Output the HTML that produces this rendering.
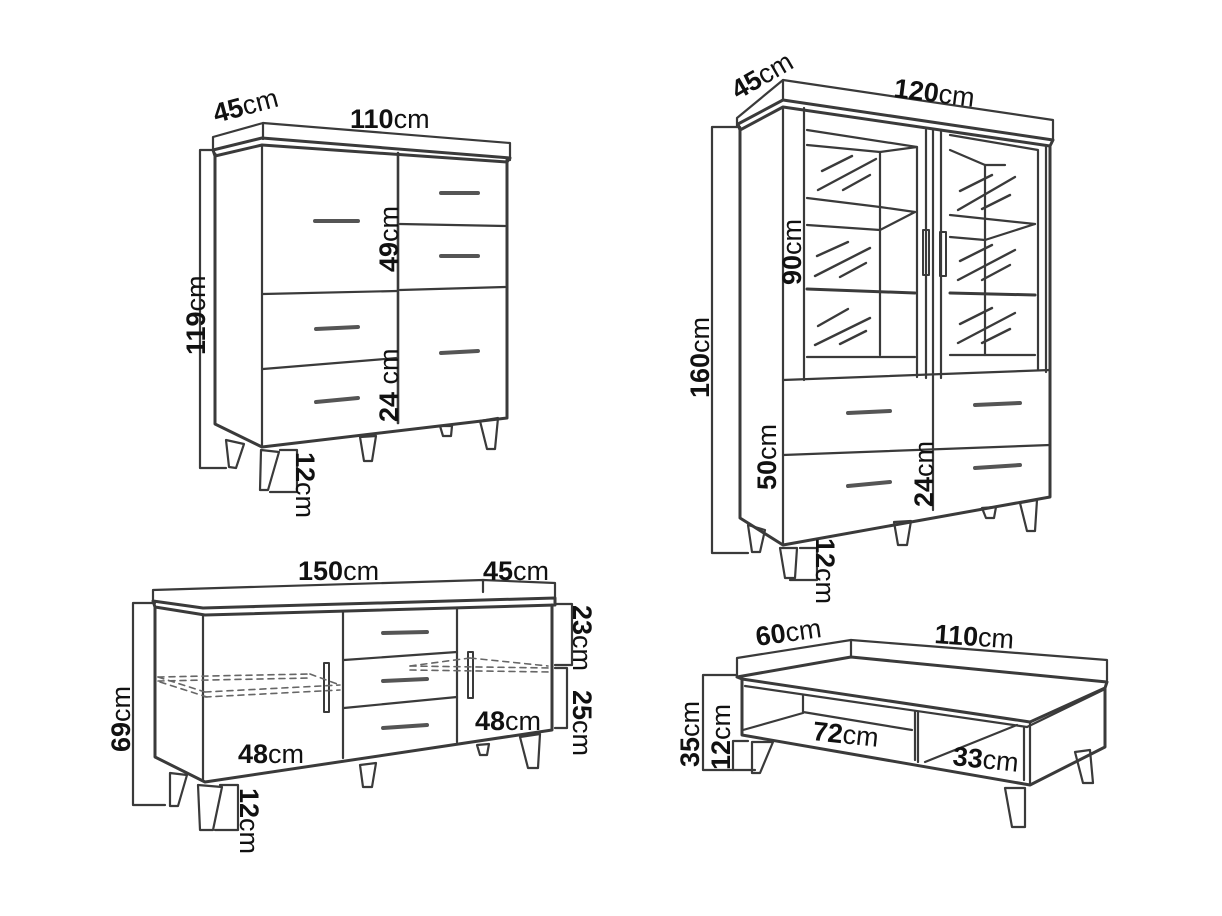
<!DOCTYPE html>
<html><head><meta charset="utf-8"><style>
html,body{margin:0;padding:0;background:#fff;}
svg{display:block;}
text{font-family:"Liberation Sans",sans-serif;font-size:27px;fill:#111;}
.b{font-weight:bold;}
</style></head><body>
<svg width="1222" height="916" viewBox="0 0 1222 916" xmlns="http://www.w3.org/2000/svg">
<g fill="none" stroke="#3a3a3a" stroke-width="2.2" stroke-linejoin="round" stroke-linecap="round">

<!-- ===== Cabinet 1 ===== -->
<polyline points="213,150 213,137 263,123 510,143 510,160"/>
<line x1="263" y1="123" x2="263" y2="139"/>
<polygon points="213,150 262,138 510,158 507,162 262,145 215,156" stroke-width="3"/>
<polyline points="215,154 215,424 262,447 507,418 507,160" stroke-width="3"/>
<line x1="262" y1="145" x2="262" y2="447"/>
<line x1="398" y1="153" x2="398" y2="423" stroke-width="2.6"/>
<line x1="263" y1="294" x2="397" y2="291"/>
<line x1="263" y1="369" x2="397" y2="358"/>
<line x1="400" y1="224" x2="505" y2="226"/>
<line x1="400" y1="290" x2="505" y2="287"/>
<g stroke-width="4" stroke="#555">
<line x1="315" y1="221" x2="358" y2="221"/><line x1="316" y1="329" x2="358" y2="327"/><line x1="316" y1="402" x2="358" y2="398"/>
<line x1="441" y1="193" x2="478" y2="193"/><line x1="441" y1="256" x2="478" y2="256"/><line x1="441" y1="353" x2="478" y2="351"/>
</g>
<polygon points="226,440 244,444 236,468 229,467"/>
<polygon points="261,450 279,452 268,490 260,490"/>
<polygon points="360,437 376,436 372,461 364,461"/>
<polygon points="440,426 452,426 451,436 443,436"/>
<polygon points="480,421 498,418 495,449 487,449"/>
<polyline points="213,150 200,150 200,468 226,468"/>
<polyline points="280,450 297,450 297,492 270,492"/>

<!-- ===== Cabinet 2 ===== -->
<polyline points="737,127 737,118 783,80 1053,120 1053,140"/>
<line x1="783" y1="80" x2="783" y2="100"/>
<polygon points="738,124 783,100 1053,140 1050,146 783,107 740,130" stroke-width="3"/>
<polyline points="740,128 740,518 783,545 1050,497 1050,146" stroke-width="3"/>
<line x1="783" y1="107" x2="783" y2="545"/>
<polyline points="804,108 804,380"/>
<line x1="783" y1="380" x2="1050" y2="370"/>
<line x1="926" y1="130" x2="926" y2="378"/>
<line x1="933" y1="130" x2="933" y2="510"/>
<line x1="941" y1="130" x2="941" y2="378"/>
<line x1="1046" y1="145" x2="1046" y2="372"/>
<polyline points="807,130 917,147 917,377"/>
<line x1="807" y1="145" x2="880" y2="152"/>
<line x1="880" y1="152" x2="917" y2="147"/>
<line x1="880" y1="152" x2="880" y2="355"/>
<line x1="807" y1="198" x2="880" y2="207"/><line x1="880" y1="207" x2="915" y2="212"/>
<line x1="880" y1="230" x2="915" y2="212"/><line x1="807" y1="225" x2="880" y2="230"/>
<line x1="807" y1="289" x2="915" y2="293" stroke-width="3"/>
<line x1="807" y1="357" x2="915" y2="357"/>
<polyline points="950,135 1038,150 1038,370"/>
<line x1="950" y1="150" x2="985" y2="165"/><line x1="985" y1="165" x2="1005" y2="165"/>
<line x1="985" y1="165" x2="985" y2="355"/>
<line x1="950" y1="215" x2="1035" y2="224"/><line x1="985" y1="240" x2="1035" y2="224"/>
<line x1="950" y1="237" x2="985" y2="240"/>
<line x1="950" y1="293" x2="1035" y2="295" stroke-width="3"/>
<line x1="950" y1="355" x2="1035" y2="355"/>
<g stroke-width="2.4">
<line x1="822" y1="171" x2="852" y2="156"/><line x1="818" y1="190" x2="876" y2="159"/><line x1="843" y1="190" x2="870" y2="175"/>
<line x1="817" y1="256" x2="848" y2="242"/><line x1="815" y1="276" x2="870" y2="248"/><line x1="840" y1="277" x2="866" y2="263"/>
<line x1="818" y1="326" x2="848" y2="309"/><line x1="815" y1="345" x2="870" y2="318"/><line x1="840" y1="344" x2="866" y2="331"/>
<line x1="960" y1="191" x2="992" y2="175"/><line x1="958" y1="210" x2="1015" y2="177"/><line x1="982" y1="209" x2="1010" y2="195"/>
<line x1="960" y1="261" x2="992" y2="245"/><line x1="958" y1="280" x2="1015" y2="250"/><line x1="982" y1="280" x2="1010" y2="265"/>
<line x1="960" y1="324" x2="992" y2="308"/><line x1="958" y1="343" x2="1015" y2="313"/><line x1="982" y1="343" x2="1010" y2="329"/>
</g>
<rect x="923" y="230" width="6" height="45" stroke-width="2"/>
<rect x="940" y="232" width="6" height="44" stroke-width="2"/>
<line x1="783" y1="455" x2="1050" y2="445"/>
<g stroke-width="4" stroke="#555">
<line x1="848" y1="413" x2="890" y2="411"/><line x1="975" y1="405" x2="1020" y2="403"/>
<line x1="848" y1="486" x2="890" y2="482"/><line x1="975" y1="468" x2="1020" y2="465"/>
</g>
<polygon points="748,525 765,530 760,552 752,552"/>
<polygon points="780,548 797,548 795,578 785,578"/>
<polygon points="894,522 911,521 907,545 898,545"/>
<polygon points="982,508 996,507 994,518 986,518"/>
<polygon points="1020,503 1037,500 1035,531 1027,531"/>
<polyline points="740,127 712,127 712,553 748,553"/>
<polyline points="800,548 817,548 817,580 790,580"/>

<!-- ===== Sideboard ===== -->
<polyline points="153,603 153,590 483,580 555,583 555,600"/>
<line x1="483" y1="580" x2="483" y2="592"/>
<polygon points="153,601 203,608 555,598 555,605 205,615 155,607" stroke-width="3"/>
<polyline points="155,607 155,757 205,782 552,730 552,605" stroke-width="3"/>
<line x1="203" y1="615" x2="203" y2="781"/>
<line x1="343" y1="612" x2="343" y2="758"/>
<line x1="457" y1="608" x2="457" y2="742"/>
<line x1="344" y1="660" x2="457" y2="652"/>
<line x1="344" y1="708" x2="457" y2="697"/>
<g stroke-width="4" stroke="#555">
<line x1="383" y1="633" x2="427" y2="632"/><line x1="383" y1="681" x2="427" y2="679"/><line x1="383" y1="728" x2="427" y2="725"/>
</g>
<rect x="324" y="663" width="5" height="49" stroke-width="2"/>
<rect x="468" y="652" width="5" height="46" stroke-width="2"/>
<g stroke-width="1.6" stroke-dasharray="6,5" stroke="#666">
<line x1="158" y1="677" x2="310" y2="674"/><line x1="158" y1="681" x2="310" y2="678"/>
<line x1="158" y1="677" x2="205" y2="692"/><line x1="160" y1="682" x2="207" y2="697"/>
<line x1="205" y1="692" x2="340" y2="685"/><line x1="205" y1="697" x2="340" y2="690"/>
<line x1="310" y1="674" x2="340" y2="685"/>
<line x1="410" y1="666" x2="550" y2="668"/><line x1="410" y1="670" x2="550" y2="672"/>
<line x1="410" y1="666" x2="470" y2="658"/><line x1="470" y1="658" x2="548" y2="666"/>
</g>
<polygon points="170,773 187,775 178,806 170,806"/>
<polygon points="198,785 222,787 213,830 200,830"/>
<polygon points="360,765 376,763 372,787 363,787"/>
<polygon points="477,745 489,744 487,755 480,755"/>
<polygon points="520,737 540,734 538,768 528,768"/>
<polyline points="155,603 133,603 133,805 165,805"/>
<polyline points="220,785 238,785 238,830 215,830"/>
<polyline points="555,604 572,604 572,665 555,665"/>
<polyline points="555,668 567,668 567,728 555,728"/>

<!-- ===== Coffee table ===== -->
<polyline points="737,675 737,658 851,640 1107,660 1107,680"/>
<line x1="851" y1="640" x2="851" y2="657"/>
<polygon points="737,677 851,657 1107,682 1105,688 1030,722 742,679" stroke-width="3"/>
<line x1="851" y1="657" x2="1107" y2="682"/>
<polyline points="742,679 742,735 1030,785 1105,747 1105,688" stroke-width="3"/>
<line x1="1030" y1="722" x2="1030" y2="785"/>
<line x1="745" y1="686" x2="1027" y2="727"/>
<line x1="1027" y1="727" x2="1103" y2="690"/>
<line x1="1024" y1="728" x2="1024" y2="780"/>
<line x1="915" y1="712" x2="915" y2="760"/>
<line x1="918" y1="712" x2="918" y2="762"/>
<polyline points="803,695 803,712 912,730"/>
<line x1="743" y1="730" x2="803" y2="713"/>
<line x1="925" y1="762" x2="1017" y2="725"/>
<polygon points="752,742 773,742 760,773 752,773"/>
<polygon points="1005,788 1025,788 1025,827 1012,827"/>
<polygon points="1075,752 1090,750 1093,783 1083,783"/>
<polyline points="737,675 703,675 703,770 755,770"/>
<polyline points="748,741 733,741 733,770"/>
</g>

<!-- ===== Labels ===== -->
<text transform="translate(216,123) rotate(-15)"><tspan class="b">45</tspan>cm</text>
<text x="350" y="128"><tspan class="b">110</tspan>cm</text>
<text transform="translate(205,355) rotate(-90)"><tspan class="b">119</tspan>cm</text>
<text transform="translate(398,272) rotate(-90)"><tspan class="b">49</tspan>cm</text>
<text transform="translate(398,422) rotate(-90)"><tspan class="b">24</tspan> cm</text>
<text transform="translate(296,452) rotate(90)"><tspan class="b">12</tspan>cm</text>

<text transform="translate(738,100) rotate(-30)"><tspan class="b">45</tspan>cm</text>
<text transform="translate(893,97) rotate(7)"><tspan class="b">120</tspan>cm</text>
<text transform="translate(801,285) rotate(-90)"><tspan class="b">90</tspan>cm</text>
<text transform="translate(709,398) rotate(-90)"><tspan class="b">160</tspan>cm</text>
<text transform="translate(776,490) rotate(-90)"><tspan class="b">50</tspan>cm</text>
<text transform="translate(933,507) rotate(-90)"><tspan class="b">24</tspan>cm</text>
<text transform="translate(816,538) rotate(90)"><tspan class="b">12</tspan>cm</text>

<text x="298" y="580"><tspan class="b">150</tspan>cm</text>
<text x="483" y="580"><tspan class="b">45</tspan>cm</text>
<text transform="translate(573,605) rotate(90)"><tspan class="b">23</tspan>cm</text>
<text transform="translate(573,690) rotate(90)"><tspan class="b">25</tspan>cm</text>
<text transform="translate(130,752) rotate(-90)"><tspan class="b">69</tspan>cm</text>
<text x="238" y="763"><tspan class="b">48</tspan>cm</text>
<text x="475" y="730"><tspan class="b">48</tspan>cm</text>
<text transform="translate(240,788) rotate(90)"><tspan class="b">12</tspan>cm</text>

<text transform="translate(757,646) rotate(-8)"><tspan class="b">60</tspan>cm</text>
<text transform="translate(934,643) rotate(4)"><tspan class="b">110</tspan>cm</text>
<text transform="translate(699,767) rotate(-90)"><tspan class="b">35</tspan>cm</text>
<text transform="translate(730,770) rotate(-90)"><tspan class="b">12</tspan>cm</text>
<text transform="translate(812,740) rotate(6)"><tspan class="b">72</tspan>cm</text>
<text transform="translate(952,765) rotate(6)"><tspan class="b">33</tspan>cm</text>
</svg>
</body></html>
